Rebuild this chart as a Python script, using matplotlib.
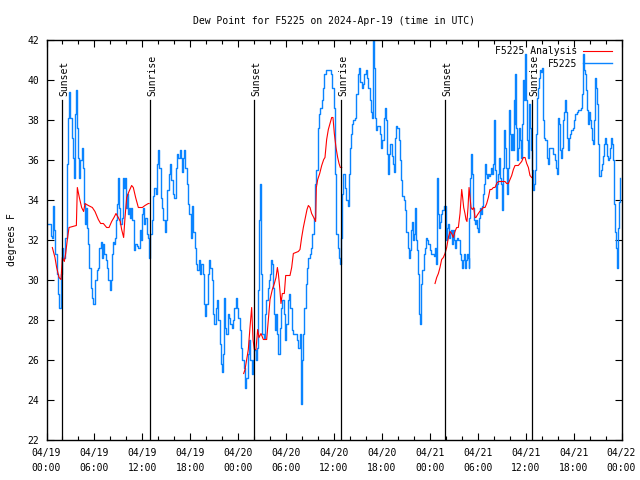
import numpy as np
import matplotlib
matplotlib.use("Agg")
import matplotlib.pyplot as plt

# Hours since 2024-04-19 00:00 UTC, dew point in degrees F
obs_hours = [0.23, 0.44, 0.52, 0.65, 0.86, 0.98, 1.06, 1.27, 1.40, 1.52, 1.69, 1.77, 1.90, 2.11, 2.32,
             2.53, 2.61, 2.73, 2.86, 2.98, 3.15, 3.28, 3.40, 3.57, 3.74, 3.86, 3.99, 4.11, 4.24, 4.40,
             4.53, 4.65, 4.78, 4.90, 5.07, 5.24, 5.36, 5.53, 5.66, 5.78, 5.99, 6.07, 6.28, 6.49, 6.62,
             6.78, 6.91, 7.07, 7.24, 7.41, 7.58, 7.74, 7.91, 8.03, 8.16, 8.29, 8.45, 8.62, 8.74, 8.87,
             8.99, 9.12, 9.24, 9.41, 9.54, 9.66, 9.79, 9.91, 10.04, 10.16, 10.29, 10.41, 10.58, 10.75,
             10.91, 11.08, 11.29, 11.50, 11.67, 11.83, 11.96, 12.13, 12.25,
             12.33, 12.54, 12.67, 12.84, 13.00, 13.17, 13.34, 13.50, 13.67, 13.84, 14.00, 14.13, 14.30,
             14.46, 14.63, 14.80, 14.96, 15.13, 15.30, 15.46, 15.63, 15.84, 16.01, 16.17, 16.34, 16.51,
             16.68, 16.84, 16.97, 17.13, 17.26, 17.38, 17.55, 17.72, 17.89, 18.05, 18.22, 18.39, 18.55,
             18.72, 18.89, 19.05, 19.22, 19.39, 19.56, 19.68, 19.85, 20.01, 20.18, 20.35, 20.52, 20.68,
             20.85, 21.02, 21.18, 21.35, 21.52, 21.68, 21.85, 21.98, 22.10, 22.23, 22.35, 22.52, 22.69,
             22.85, 23.02, 23.19, 23.35, 23.52, 23.69, 23.85, 24.02, 24.19, 24.36, 24.52, 24.69,
             24.86, 25.02, 25.19, 25.36, 25.52, 25.69, 25.86, 26.02, 26.19, 26.36, 26.53, 26.65, 26.78,
             26.90, 27.03, 27.19, 27.36, 27.53, 27.69, 27.86, 28.03, 28.15, 28.28, 28.40, 28.53, 28.65,
             28.78, 28.91, 29.03, 29.20, 29.36, 29.53, 29.70, 29.86, 30.03, 30.20, 30.37, 30.53, 30.70,
             30.87, 31.03, 31.20, 31.37, 31.53, 31.70, 31.83, 31.95, 32.12, 32.29, 32.45, 32.62, 32.79,
             32.95, 33.12, 33.29, 33.46, 33.62, 33.79, 33.96, 34.12, 34.29, 34.46, 34.62, 34.79, 34.96,
             35.21, 35.46, 35.63, 35.79, 35.96, 36.13, 36.29, 36.46, 36.63, 36.75, 36.88, 37.00, 37.17,
             37.38, 37.54, 37.71, 37.88, 38.00, 38.13, 38.25, 38.42, 38.63, 38.80, 38.96, 39.13, 39.30,
             39.46, 39.63, 39.80, 39.97, 40.13, 40.30, 40.47, 40.59, 40.72, 40.84, 40.93, 41.05, 41.18,
             41.30, 41.43, 41.59, 41.76, 41.89, 42.05, 42.22, 42.39, 42.51, 42.64, 42.76, 42.89, 43.05,
             43.22, 43.39, 43.51, 43.64, 43.76, 43.93, 44.10, 44.27, 44.39, 44.56, 44.72, 44.89, 45.06,
             45.23, 45.35, 45.48, 45.60, 45.73, 45.85, 46.02, 46.19, 46.31, 46.44, 46.56, 46.69, 46.81,
             46.94, 47.06, 47.23, 47.35, 47.48, 47.65, 47.81, 47.98, 48.15, 48.31, 48.48, 48.65, 48.77,
             48.86, 48.94, 49.07, 49.19, 49.32, 49.44, 49.57, 49.73,
             49.90, 50.03, 50.15, 50.28, 50.40, 50.53, 50.65, 50.78, 50.90, 51.03, 51.15, 51.28, 51.40,
             51.57, 51.74, 51.86, 51.99, 52.11, 52.24, 52.36, 52.49, 52.61, 52.74, 52.86, 52.95, 53.07,
             53.16, 53.24, 53.36, 53.49, 53.61, 53.74, 53.87, 53.99, 54.12, 54.24, 54.37, 54.49, 54.62,
             54.74, 54.87, 54.99, 55.12, 55.24, 55.37, 55.49, 55.62, 55.74, 55.87, 55.99, 56.12, 56.24,
             56.37, 56.50, 56.62, 56.75, 56.87, 57.00, 57.12, 57.25, 57.37, 57.50, 57.62, 57.75, 57.87,
             58.00, 58.12, 58.25, 58.37, 58.50, 58.62, 58.71, 58.83, 58.96, 59.08, 59.21, 59.33, 59.46,
             59.58, 59.71, 59.79, 59.92, 60.04, 60.17, 60.29, 60.42, 60.54, 60.67, 60.79, 60.88, 61.00,
             61.13, 61.25, 61.38, 61.50, 61.63, 61.75,
             61.88, 62.01, 62.13, 62.30, 62.47, 62.63, 62.76, 62.89, 63.05, 63.26, 63.47, 63.64, 63.76,
             63.89, 63.97, 64.05, 64.18, 64.30, 64.43, 64.55, 64.68, 64.80, 64.93, 65.06, 65.18, 65.31,
             65.43, 65.56, 65.72, 65.89, 66.06, 66.22, 66.39, 66.56, 66.73, 66.89, 67.02, 67.14, 67.23,
             67.35, 67.48, 67.60, 67.73, 67.85, 67.98, 68.10, 68.23, 68.35, 68.48, 68.60, 68.73, 68.85,
             68.98, 69.10, 69.23, 69.35, 69.48, 69.61, 69.73, 69.86, 69.98, 70.11, 70.23, 70.36, 70.48,
             70.61, 70.73, 70.86, 70.98, 71.11, 71.23, 71.36, 71.44, 71.53, 71.61, 71.69, 71.78]
obs_dewpt = [32.8, 32.8, 32.2, 32.1, 33.7, 32.5, 31.3, 30.3, 29.3, 28.6, 28.6, 30.3, 31.6, 31.1, 32.1,
             33.7, 35.8, 38.1, 39.4, 38.1, 37.1, 36.1, 35.1, 38.3, 39.5, 37.6, 36.1, 35.1, 36.0, 36.6,
             35.6, 33.8, 32.8, 33.6, 32.6, 31.8, 30.6, 29.6, 29.1, 28.8, 28.8, 30.0, 30.5, 30.6, 31.6,
             31.9, 31.1, 31.8, 31.3, 31.0, 30.6, 30.0, 29.5, 30.0, 31.3, 31.9, 31.8, 32.1, 33.0, 33.8,
             35.1, 33.6, 32.8, 33.1, 35.1, 34.6, 35.1, 33.6, 34.3, 33.3, 33.6, 33.1, 33.6, 33.0,
             31.5, 31.8, 31.7, 31.6, 32.5, 32.0, 33.3, 33.6, 32.8,
             33.1, 32.3, 32.1, 31.1, 32.3, 33.0, 34.2, 34.6, 34.3, 35.8, 36.5, 35.6, 34.1,
             33.6, 33.0, 32.4, 33.0, 34.5, 35.3, 35.8, 35.0, 34.3, 34.1, 35.6, 36.3, 36.1,
             36.5, 36.1, 35.4, 36.1, 36.5, 35.6, 34.8, 33.8, 33.3, 32.1, 33.7, 32.4, 31.6,
             30.8, 30.5, 31.0, 30.3, 30.8, 30.3, 28.8, 28.2, 28.8, 30.3, 31.0, 30.6, 30.0,
             28.3, 27.8, 28.6, 29.0, 28.0, 26.8, 25.8, 25.4, 26.3, 29.1, 27.6, 27.3, 28.3,
             28.1, 27.8, 27.6, 28.0, 28.6, 29.1, 28.6, 28.1, 27.5, 26.6, 26.0, 25.6,
             24.6, 25.1, 26.3, 27.0, 26.0, 25.3, 26.0, 26.5, 26.0, 26.6, 29.5, 33.0, 34.8,
             30.3, 27.3, 27.1, 28.3, 29.0, 29.6, 30.0, 30.3, 31.0, 30.8, 29.6, 28.3, 27.5,
             28.3, 27.3, 26.3, 27.6, 28.6, 29.0, 28.3, 27.0, 27.8, 29.0, 29.3, 28.6, 27.5,
             27.3, 27.3, 27.3, 27.0, 26.6, 27.3, 23.8, 26.0, 27.3, 28.6, 29.8, 30.6, 31.1,
             31.3, 31.6, 32.3, 33.1, 34.8, 35.5, 37.6, 38.3, 38.6, 39.0, 39.6, 40.3, 40.5,
             40.5, 40.5, 40.3, 39.6, 38.6, 35.3, 32.3, 31.6, 31.1, 30.8, 32.1, 34.3, 35.3,
             34.6, 34.0, 33.7, 35.3, 36.6, 37.3, 37.8, 38.0, 38.1, 39.3, 40.3, 40.6, 39.9,
             39.6, 39.8, 40.3, 40.5, 40.1, 39.6, 39.0, 38.4, 38.1, 40.8, 42.0, 40.6, 38.1,
             37.5, 37.7, 37.7, 37.3, 36.6, 37.0, 38.1, 38.6, 38.0, 36.3, 35.3, 36.3, 36.8,
             36.2, 35.8, 35.4, 37.1, 37.7, 37.6, 37.0, 36.0, 35.0, 34.2, 34.0, 33.5, 32.4,
             31.6, 31.1, 31.5, 32.5, 32.9, 32.0, 32.3, 33.6, 32.0, 31.5, 30.3, 28.3, 27.8,
             29.8, 30.5, 31.3, 31.6, 32.1, 32.0, 31.8, 31.5, 31.3, 31.3, 31.2, 31.6, 30.8,
             32.5, 35.1, 33.3, 32.6, 32.9, 33.3, 33.5, 33.7,
             33.7, 32.0, 32.6, 32.8, 32.1, 32.4, 32.5, 31.8, 32.5, 32.0, 31.6, 32.0, 32.1,
             32.0, 31.3, 31.0, 30.6, 31.0, 31.3, 30.6, 31.0, 31.3, 31.1, 30.6, 33.1, 35.1,
             36.3, 35.3, 33.6, 33.0, 32.8, 33.0, 32.6, 32.4, 33.1, 33.6, 33.3, 33.7, 34.3,
             34.8, 35.8, 35.3, 35.1, 35.3, 35.2, 35.3, 35.6, 35.3, 35.8, 38.0, 35.5, 34.1,
             34.8, 35.3, 36.1, 35.1, 34.8, 33.5, 35.6, 37.5, 36.6, 35.6, 34.3, 35.6, 38.5,
             37.3, 36.5, 37.3, 36.5, 39.0, 37.8, 40.3, 37.6, 36.0, 36.6, 37.6, 37.0, 36.1,
             37.8, 40.0, 39.0, 41.3, 39.0, 37.0, 36.1, 38.8, 37.6, 36.5, 35.5, 34.5, 34.8,
             35.5, 37.3, 39.1, 39.6, 40.1, 40.5,
             40.4, 40.6, 38.0, 37.1, 37.0, 36.1, 35.8, 36.6, 36.6, 36.6, 36.3, 36.0, 35.6,
             35.5, 35.3, 38.1, 37.8, 36.5, 36.1, 36.6, 38.0, 38.4, 39.0, 38.4, 37.1, 36.5,
             37.1, 37.3, 37.5, 37.6, 38.0, 38.3, 38.4, 38.5, 38.5, 38.6, 39.3, 40.6, 41.3,
             40.5, 40.3, 39.5, 38.5, 37.8, 38.4, 38.0, 37.6, 37.0, 36.8, 38.0, 40.1, 39.6,
             38.8, 36.8, 35.2, 35.2, 35.5, 35.8, 36.2, 36.8, 37.1, 36.8, 36.2, 36.0, 36.1,
             36.6, 37.1, 36.8, 36.0, 33.8, 32.4, 31.6, 30.6, 31.3, 32.6, 33.9, 35.1]

# Analysis series (NaN = gap)
ana_hours = [0.73, 1.06, 1.27, 1.57, 1.82, 1.98, 2.23, 2.40, 2.61, 2.82, 3.74, 3.86, 4.11, 4.40, 4.65,
             4.82, 5.24, 5.74, 6.07, 6.49, 6.78, 7.12, 7.53, 7.83, 8.16, 8.45, 8.70, 8.99, 9.24, 9.41,
             9.66, 9.83, 10.04, 10.33, 10.66, 10.87, 11.16, 11.50, 11.71, 12.00, 12.33, 12.75, 12.84,
             18.0,
             24.69, 24.86, 25.06, 25.27, 25.48, 25.69, 25.86, 26.02, 26.23, 26.44, 26.61, 26.86, 27.15,
             27.57, 27.78, 27.99, 28.28, 28.53, 28.74, 28.91, 29.03, 29.20, 29.36, 29.53, 29.78, 29.95,
             30.49, 30.70, 30.91, 31.53, 31.74, 31.95, 32.16, 32.37, 32.62, 32.79, 33.00, 33.20, 33.46,
             33.70, 33.79, 33.96, 34.21, 34.46, 34.71, 34.87, 35.08, 35.29, 35.50, 35.71, 35.87, 36.04,
             36.25, 36.46, 36.63, 36.79, 36.96,
             42.0,
             48.65, 48.86, 49.07, 49.27, 49.48, 49.69, 49.90, 50.11, 50.32, 50.53, 50.73, 50.94, 51.15,
             51.36, 51.57, 51.78, 51.90, 51.99, 52.11, 52.24, 52.40, 52.53, 52.65, 52.78, 52.91, 53.03,
             53.16, 53.32, 53.49, 53.66, 53.78, 53.91, 54.07, 54.24, 54.49, 54.70, 54.91, 55.12, 55.33,
             55.53, 55.74, 55.95, 56.16, 56.37, 56.58, 56.79, 57.00, 57.20, 57.41, 57.62, 57.83, 58.04,
             58.25, 58.46, 58.67, 58.87, 59.08, 59.29, 59.50, 59.71, 59.92, 60.13, 60.34, 60.54, 60.75]
ana_dewpt = [31.6, 31.1, 30.6, 30.1, 30.0, 31.1, 30.9, 31.3, 32.0, 32.6, 32.7, 34.6, 34.1, 33.6, 33.4,
             33.8, 33.7, 33.6, 33.4, 33.0, 32.8, 32.8, 32.6, 32.6, 32.9, 33.1, 33.3, 33.1, 32.9, 32.5,
             32.1, 33.1, 34.1, 34.4, 34.7, 34.6, 34.1, 33.6, 33.6, 33.6, 33.7, 33.8, 33.8,
             np.nan,
             25.3, 25.5, 26.0, 26.5, 27.6, 28.6, 27.0, 26.5, 26.5, 27.5, 27.1, 27.3, 27.0,
             27.0, 28.0, 29.0, 29.5, 29.8, 30.1, 30.6, 30.3, 29.6, 28.8, 29.3, 29.3, 30.2,
             30.2, 30.6, 31.3, 31.4, 31.5, 32.1, 32.6, 33.0, 33.5, 33.7, 33.6, 33.3, 33.1,
             32.9, 34.6, 35.0, 35.3, 35.7, 36.0, 36.1, 37.0, 37.5, 37.8, 38.1, 38.1, 37.3,
             36.6, 36.1, 35.8, 35.6, 35.6,
             np.nan,
             29.8, 30.1, 30.3, 30.6, 31.0, 31.1, 31.3, 31.6, 32.1, 32.4, 32.3, 32.1, 32.4,
             32.6, 32.6, 33.3, 34.0, 34.5, 34.1, 33.6, 33.3, 33.0, 32.9, 33.6, 34.6, 34.1,
             33.6, 33.5, 33.6, 33.1, 33.1, 33.2, 33.3, 33.4, 33.5, 33.6, 33.6, 33.8, 34.1,
             34.5, 34.5, 34.6, 34.6, 34.8, 34.9, 34.9, 34.9, 34.9, 34.9, 34.8, 34.8, 35.0,
             35.2, 35.5, 35.7, 35.7, 35.7, 35.8, 35.9, 36.1, 36.1, 35.8, 35.6, 35.2, 35.1]

event_hours = [1.94, 12.96, 25.98, 36.88, 49.90, 60.79]
event_names = ["Sunset", "Sunrise", "Sunset", "Sunrise", "Sunset", "Sunrise"]

tick_hours = list(range(0, 73, 6))
tick_labels = ["04/19\n00:00", "04/19\n06:00", "04/19\n12:00", "04/19\n18:00",
               "04/20\n00:00", "04/20\n06:00", "04/20\n12:00", "04/20\n18:00",
               "04/21\n00:00", "04/21\n06:00", "04/21\n12:00", "04/21\n18:00",
               "04/22\n00:00"]

mono = "DejaVu Sans Mono"
fs = 7

fig = plt.figure(figsize=(6.4, 4.8), dpi=100)
ax = fig.add_axes([46.5 / 640, 1 - 439.5 / 480, 575 / 640, 400 / 480])

ax.plot(ana_hours, ana_dewpt, color="#ff0000", lw=0.8, label="F5225 Analysis", zorder=3)
ax.plot(obs_hours, obs_dewpt, color="#0a84ff", lw=1.0, drawstyle="steps-post", label="F5225", zorder=2)

for h, name in zip(event_hours, event_names):
    ax.plot([h, h], [22, 39.0], color="black", lw=0.9, zorder=4)
    ax.text(h + 0.35, 39.2, name, rotation=90, ha="center", va="bottom",
            fontsize=fs, family=mono)

ax.set_xlim(0, 72)
ax.set_ylim(22, 42)
ax.set_xticks(tick_hours)
ax.set_xticklabels(tick_labels, family=mono, fontsize=fs, linespacing=1.6)
ax.set_xticks(np.arange(0, 73, 2), minor=True)
ax.set_yticks(np.arange(22, 43, 2))
ax.set_yticklabels([str(v) for v in range(22, 43, 2)], family=mono, fontsize=fs)
ax.tick_params(which="both", direction="in", top=True, right=True, width=0.8)
ax.tick_params(which="major", length=5, pad=6)
ax.tick_params(axis="y", which="major", pad=5)
ax.tick_params(which="minor", length=3)
for s in ax.spines.values():
    s.set_linewidth(1.0)

ax.set_ylabel("degrees F", family=mono, fontsize=fs, labelpad=8)
ax.set_title("Dew Point for F5225 on 2024-Apr-19 (time in UTC)", family=mono, fontsize=fs, pad=11)

leg = ax.legend(loc="upper right", frameon=False, markerfirst=False,
                prop={"family": mono, "size": fs}, handlelength=3.0,
                borderaxespad=0.3, labelspacing=0.25, handletextpad=0.6,
                bbox_to_anchor=(0.995, 1.0))

fig.savefig("out.png", dpi=100)
